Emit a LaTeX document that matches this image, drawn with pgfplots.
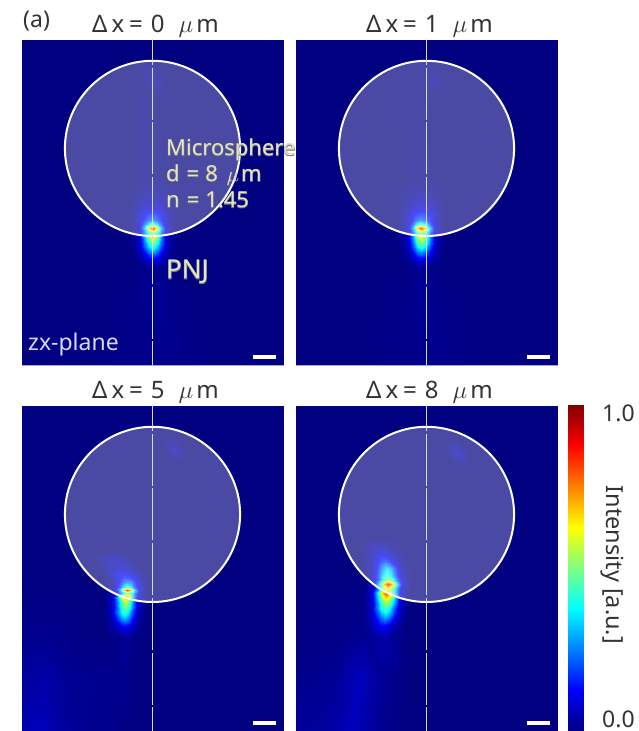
\documentclass[border=0pt]{standalone}
\usepackage{pgfplots}
\pgfplotsset{compat=1.18}
\usepackage{fontspec}
\setmainfont{Noto Sans}
\newfontfamily\halo[FakeBold=3.5]{Noto Sans}
\definecolor{txt}{HTML}{333333}
\definecolor{ann}{HTML}{E4E4C6}
\definecolor{hal}{HTML}{808078}
\definecolor{edgec}{HTML}{A4A4D4}
\definecolor{navy0}{rgb}{0,0,0.5}
\newcommand{\fs}[1]{\fontsize{#1}{#1}\selectfont}
\newcommand{\ttl}[1]{Δ\hspace{4pt}x\hspace{5pt}=\hspace{8pt}#1\hspace{14pt}$\mu$\hspace{3pt}m}
\pgfplotsset{
 panel/.style={
  scale only axis, width=261pt, height=325pt,
  xmin=-5.96, xmax=5.96, ymin=-9.89, ymax=4.95,
  xtick=\empty, ytick=\empty,
  axis line style={color=edgec, line width=0.6pt},
  axis background/.style={fill=navy0},
  colormap/jet, point meta min=0, point meta max=1,
  title style={font=\fs{24}, color=txt, at={(0.5,1)}, anchor=south, yshift=-7pt, xshift=3pt},
  unbounded coords=jump, clip=true,
 },
 heat/.style={surf, shader=interp, mesh/cols=#1, point meta=explicit, forget plot},
}
\newcommand{\overlay}{%
 \draw[white, line width=2pt, fill=white, fill opacity=0.29] (axis cs:0,0) circle[radius=4];
 \addplot[white!85!blue, line width=1.2pt, forget plot] coordinates {(0,5)(0,3.81)(0,nan)(0,3.69)(0,1.31)(0,nan)(0,1.19)(0,-1.19)(0,nan)(0,-1.31)(0,-3.69)(0,nan)(0,-3.81)(0,-6.19)(0,nan)(0,-6.31)(0,-8.69)(0,nan)(0,-8.81)(0,-10)};
 \addplot[white, line width=4.5pt, forget plot] coordinates {(4.6,-9.53)(5.62,-9.53)};
}
\begin{document}
\begin{tikzpicture}
\useasboundingbox (0,0) rectangle (638pt,731pt);
% panel 1
\begin{axis}[panel, name=p1, at={(22pt,366pt)}, anchor=south west, title={\ttl{0}}]
\addplot[heat=7] coordinates {(-5.96,-9.89)[0](-3,-9.89)[0](-1.5,-9.89)[.01](0,-9.89)[.01](1.5,-9.89)[.01](3,-9.89)[0](5.96,-9.89)[0]
(-5.96,-7)[0](-2.5,-7)[0](-1,-7)[.01](0,-7)[.02](1,-7)[.01](2.5,-7)[0](5.96,-7)[0]
(-5.96,-5.4)[0](-2,-5.4)[0](-1,-5.4)[0](0,-5.4)[.02](1,-5.4)[0](2,-5.4)[0](5.96,-5.4)[0]
(-5.96,4.95)[0](-2,4.95)[0](-1,4.95)[0](0,4.95)[0](1,4.95)[0](2,4.95)[0](5.96,4.95)[0]};
\addplot[heat=3] coordinates {(-.6,2.4)[0](0,2.4)[0](.6,2.4)[0](-.6,3.2)[0](0,3.2)[.04](.6,3.2)[0](-.6,3.9)[0](0,3.9)[0](.6,3.9)[0]};
\addplot[heat=9] coordinates {
(-1,-5.4)[0](-.62,-5.4)[.005](-.38,-5.4)[.01](-.18,-5.4)[.015](0,-5.4)[.02](.18,-5.4)[.015](.38,-5.4)[.01](.62,-5.4)[.005](1,-5.4)[0]
(-1,-5)[.005](-.62,-5)[.03](-.38,-5)[.07](-.18,-5)[.12](0,-5)[.14](.18,-5)[.12](.38,-5)[.07](.62,-5)[.03](1,-5)[.005]
(-1,-4.75)[.005](-.62,-4.75)[.04](-.38,-4.75)[.13](-.18,-4.75)[.24](0,-4.75)[.28](.18,-4.75)[.24](.38,-4.75)[.13](.62,-4.75)[.04](1,-4.75)[.005]
(-1,-4.5)[.01](-.62,-4.5)[.06](-.38,-4.5)[.2](-.18,-4.5)[.35](0,-4.5)[.42](.18,-4.5)[.35](.38,-4.5)[.2](.62,-4.5)[.06](1,-4.5)[.01]
(-1,-4.25)[.01](-.62,-4.25)[.07](-.38,-4.25)[.25](-.18,-4.25)[.46](0,-4.25)[.55](.18,-4.25)[.46](.38,-4.25)[.25](.62,-4.25)[.07](1,-4.25)[.01]
(-1,-4.03)[.01](-.62,-4.03)[.08](-.38,-4.03)[.28](-.18,-4.03)[.55](0,-4.03)[.66](.18,-4.03)[.55](.38,-4.03)[.28](.62,-4.03)[.08](1,-4.03)[.01]
(-1,-3.85)[.01](-.62,-3.85)[.06](-.38,-3.85)[.22](-.18,-3.85)[.42](0,-3.85)[.5](.18,-3.85)[.42](.38,-3.85)[.22](.62,-3.85)[.06](1,-3.85)[.01]
(-1,-3.64)[.01](-.62,-3.64)[.07](-.38,-3.64)[.3](-.18,-3.64)[.68](0,-3.64)[.84](.18,-3.64)[.68](.38,-3.64)[.3](.62,-3.64)[.07](1,-3.64)[.01]
(-1,-3.45)[.01](-.62,-3.45)[.06](-.38,-3.45)[.2](-.18,-3.45)[.37](0,-3.45)[.45](.18,-3.45)[.37](.38,-3.45)[.2](.62,-3.45)[.06](1,-3.45)[.01]
(-1,-3.28)[.01](-.62,-3.28)[.06](-.38,-3.28)[.14](-.18,-3.28)[.21](0,-3.28)[.24](.18,-3.28)[.21](.38,-3.28)[.14](.62,-3.28)[.06](1,-3.28)[.01]
(-1,-3.05)[.01](-.62,-3.05)[.06](-.38,-3.05)[.12](-.18,-3.05)[.16](0,-3.05)[.17](.18,-3.05)[.16](.38,-3.05)[.12](.62,-3.05)[.06](1,-3.05)[.01]
(-1,-2.7)[.01](-.62,-2.7)[.04](-.38,-2.7)[.07](-.18,-2.7)[.08](0,-2.7)[.09](.18,-2.7)[.08](.38,-2.7)[.07](.62,-2.7)[.04](1,-2.7)[.01]
(-1,-2.2)[.005](-.62,-2.2)[.02](-.38,-2.2)[.03](-.18,-2.2)[.04](0,-2.2)[.04](.18,-2.2)[.04](.38,-2.2)[.03](.62,-2.2)[.02](1,-2.2)[.005]
(-1,-1.5)[0](-.62,-1.5)[.005](-.38,-1.5)[.01](-.18,-1.5)[.01](0,-1.5)[.01](.18,-1.5)[.01](.38,-1.5)[.01](.62,-1.5)[.005](1,-1.5)[0]};
\overlay
\end{axis}
% panel 2
\begin{axis}[panel, name=p2, at={(296pt,366pt)}, anchor=south west, title={\ttl{1}}]
\addplot[heat=7] coordinates {(-5.96,-9.89)[0](-3.2,-9.89)[0](-1.7,-9.89)[.01](-.3,-9.89)[.01](1.2,-9.89)[.01](3,-9.89)[0](5.96,-9.89)[0]
(-5.96,-7)[0](-2.7,-7)[0](-1.2,-7)[.01](-.25,-7)[.02](.8,-7)[.01](2.3,-7)[0](5.96,-7)[0]
(-5.96,-5.4)[0](-2.2,-5.4)[0](-1.24,-5.4)[0](-.24,-5.4)[.02](.76,-5.4)[0](1.8,-5.4)[0](5.96,-5.4)[0]
(-5.96,4.95)[0](-2.2,4.95)[0](-1.24,4.95)[0](-.24,4.95)[0](.76,4.95)[0](1.8,4.95)[0](5.96,4.95)[0]};
\addplot[heat=3] coordinates {(-.4,2.4)[0](.2,2.4)[0](.8,2.4)[0](-.4,3.2)[0](.2,3.2)[.03](.8,3.2)[0](-.4,3.9)[0](.2,3.9)[0](.8,3.9)[0]};
\addplot[heat=9] coordinates {
(-1.24,-5.4)[0](-.86,-5.4)[.005](-.62,-5.4)[.01](-.42,-5.4)[.015](-.24,-5.4)[.02](-.06,-5.4)[.015](.14,-5.4)[.01](.38,-5.4)[.005](.76,-5.4)[0]
(-1.24,-5)[.005](-.86,-5)[.03](-.62,-5)[.07](-.42,-5)[.12](-.24,-5)[.14](-.06,-5)[.12](.14,-5)[.07](.38,-5)[.03](.76,-5)[.005]
(-1.24,-4.75)[.005](-.86,-4.75)[.04](-.62,-4.75)[.13](-.42,-4.75)[.24](-.24,-4.75)[.28](-.06,-4.75)[.24](.14,-4.75)[.13](.38,-4.75)[.04](.76,-4.75)[.005]
(-1.24,-4.5)[.01](-.86,-4.5)[.06](-.62,-4.5)[.2](-.42,-4.5)[.35](-.24,-4.5)[.42](-.06,-4.5)[.35](.14,-4.5)[.2](.38,-4.5)[.06](.76,-4.5)[.01]
(-1.24,-4.25)[.01](-.86,-4.25)[.07](-.62,-4.25)[.25](-.42,-4.25)[.46](-.24,-4.25)[.55](-.06,-4.25)[.46](.14,-4.25)[.25](.38,-4.25)[.07](.76,-4.25)[.01]
(-1.24,-4.03)[.01](-.86,-4.03)[.08](-.62,-4.03)[.28](-.42,-4.03)[.52](-.24,-4.03)[.62](-.06,-4.03)[.52](.14,-4.03)[.28](.38,-4.03)[.08](.76,-4.03)[.01]
(-1.24,-3.85)[.01](-.86,-3.85)[.06](-.62,-3.85)[.22](-.42,-3.85)[.42](-.24,-3.85)[.5](-.06,-3.85)[.42](.14,-3.85)[.22](.38,-3.85)[.06](.76,-3.85)[.01]
(-1.24,-3.64)[.01](-.86,-3.64)[.07](-.62,-3.64)[.3](-.42,-3.64)[.68](-.24,-3.64)[.84](-.06,-3.64)[.68](.14,-3.64)[.3](.38,-3.64)[.07](.76,-3.64)[.01]
(-1.24,-3.45)[.01](-.86,-3.45)[.06](-.62,-3.45)[.2](-.42,-3.45)[.37](-.24,-3.45)[.45](-.06,-3.45)[.37](.14,-3.45)[.2](.38,-3.45)[.06](.76,-3.45)[.01]
(-1.24,-3.28)[.01](-.86,-3.28)[.06](-.62,-3.28)[.14](-.42,-3.28)[.21](-.24,-3.28)[.24](-.06,-3.28)[.21](.14,-3.28)[.14](.38,-3.28)[.06](.76,-3.28)[.01]
(-1.24,-3.05)[.01](-.86,-3.05)[.06](-.62,-3.05)[.12](-.42,-3.05)[.16](-.24,-3.05)[.17](-.06,-3.05)[.16](.14,-3.05)[.12](.38,-3.05)[.06](.76,-3.05)[.01]
(-1.24,-2.7)[.01](-.86,-2.7)[.04](-.62,-2.7)[.07](-.42,-2.7)[.08](-.24,-2.7)[.09](-.06,-2.7)[.08](.14,-2.7)[.07](.38,-2.7)[.04](.76,-2.7)[.01]
(-1.24,-2.2)[.005](-.86,-2.2)[.02](-.62,-2.2)[.03](-.42,-2.2)[.04](-.24,-2.2)[.04](-.06,-2.2)[.04](.14,-2.2)[.03](.38,-2.2)[.02](.76,-2.2)[.005]
(-1.24,-1.5)[0](-.86,-1.5)[.005](-.62,-1.5)[.01](-.42,-1.5)[.01](-.24,-1.5)[.01](-.06,-1.5)[.01](.14,-1.5)[.01](.38,-1.5)[.005](.76,-1.5)[0]};
\overlay
\end{axis}
% panel 3
\begin{axis}[panel, name=p3, at={(22pt,0pt)}, anchor=south west, title={\ttl{5}}]
\addplot[heat=7] coordinates {(-5.96,-9.89)[.05](-5.1,-9.89)[.06](-4.2,-9.89)[.03](-2.8,-9.89)[.015](-1.6,-9.89)[.01](-.8,-9.89)[0](5.96,-9.89)[0]
(-5.96,-7.5)[.025](-4.9,-7.5)[.04](-3.9,-7.5)[.02](-2.4,-7.5)[.015](-1.4,-7.5)[.015](-.6,-7.5)[0](5.96,-7.5)[0]
(-5.96,-5.6)[.01](-4.6,-5.6)[.015](-3.4,-5.6)[.005](-2.2,-5.6)[0](-1.3,-5.6)[.02](-.4,-5.6)[0](5.96,-5.6)[0]
(-5.96,-3)[0](-4.6,-3)[0](-3.4,-3)[0](-2.2,-3)[0](-1.3,-3)[0](-.4,-3)[0](5.96,-3)[0]
(-5.96,4.95)[0](-4.6,4.95)[0](-3.4,4.95)[0](-2.2,4.95)[0](-1.3,4.95)[0](-.4,4.95)[0](5.96,4.95)[0]};
\addplot[heat=3] coordinates {(.4,2.4)[0](.96,2.4)[0](1.5,2.4)[0](.4,3)[0](.96,3)[.05](1.5,3)[0](.4,3.6)[0](.96,3.6)[0](1.5,3.6)[0]};
\addplot[heat=9] coordinates {
(-2.2,-5.6)[0](-1.88,-5.6)[.005](-1.65,-5.6)[.01](-1.46,-5.6)[.015](-1.3,-5.6)[.02](-1.14,-5.6)[.015](-.95,-5.6)[.01](-.72,-5.6)[.005](-.4,-5.6)[0]
(-2.2,-5.1)[.005](-1.88,-5.1)[.03](-1.65,-5.1)[.06](-1.46,-5.1)[.11](-1.3,-5.1)[.13](-1.14,-5.1)[.11](-.95,-5.1)[.06](-.72,-5.1)[.03](-.4,-5.1)[.005]
(-2.2,-4.8)[.005](-1.88,-4.8)[.04](-1.65,-4.8)[.13](-1.46,-4.8)[.24](-1.3,-4.8)[.28](-1.14,-4.8)[.24](-.95,-4.8)[.13](-.72,-4.8)[.04](-.4,-4.8)[.005]
(-2.2,-4.5)[.01](-1.88,-4.5)[.06](-1.65,-4.5)[.2](-1.46,-4.5)[.35](-1.3,-4.5)[.42](-1.14,-4.5)[.35](-.95,-4.5)[.2](-.72,-4.5)[.06](-.4,-4.5)[.01]
(-2.15,-4.2)[.01](-1.83,-4.2)[.07](-1.6,-4.2)[.24](-1.41,-4.2)[.44](-1.25,-4.2)[.52](-1.09,-4.2)[.44](-.9,-4.2)[.24](-.67,-4.2)[.07](-.35,-4.2)[.01]
(-2.15,-3.95)[.01](-1.83,-3.95)[.07](-1.6,-3.95)[.26](-1.41,-3.95)[.48](-1.25,-3.95)[.58](-1.09,-3.95)[.48](-.9,-3.95)[.26](-.67,-3.95)[.07](-.35,-3.95)[.01]
(-2.15,-3.75)[.01](-1.83,-3.75)[.08](-1.6,-3.75)[.3](-1.41,-3.75)[.64](-1.25,-3.75)[.78](-1.09,-3.75)[.64](-.9,-3.75)[.3](-.67,-3.75)[.08](-.35,-3.75)[.01]
(-2.05,-3.6)[.01](-1.73,-3.6)[.06](-1.5,-3.6)[.22](-1.31,-3.6)[.4](-1.15,-3.6)[.48](-.99,-3.6)[.4](-.8,-3.6)[.22](-.57,-3.6)[.06](-.25,-3.6)[.01]
(-2.05,-3.47)[.01](-1.73,-3.47)[.07](-1.5,-3.47)[.3](-1.31,-3.47)[.7](-1.15,-3.47)[.86](-.99,-3.47)[.7](-.8,-3.47)[.3](-.57,-3.47)[.07](-.25,-3.47)[.01]
(-2.05,-3.3)[.01](-1.73,-3.3)[.06](-1.5,-3.3)[.18](-1.31,-3.3)[.35](-1.15,-3.3)[.42](-.99,-3.3)[.35](-.8,-3.3)[.18](-.57,-3.3)[.06](-.25,-3.3)[.01]
(-2.05,-3.1)[.01](-1.73,-3.1)[.05](-1.5,-3.1)[.14](-1.31,-3.1)[.23](-1.15,-3.1)[.26](-.99,-3.1)[.23](-.8,-3.1)[.14](-.57,-3.1)[.05](-.25,-3.1)[.01]
(-2.1,-2.9)[.01](-1.78,-2.9)[.05](-1.55,-2.9)[.11](-1.36,-2.9)[.15](-1.2,-2.9)[.17](-1.04,-2.9)[.15](-.85,-2.9)[.11](-.62,-2.9)[.05](-.3,-2.9)[.01]
(-2.35,-2.5)[.01](-2.03,-2.5)[.04](-1.8,-2.5)[.06](-1.61,-2.5)[.07](-1.45,-2.5)[.07](-1.29,-2.5)[.07](-1.1,-2.5)[.06](-.87,-2.5)[.04](-.55,-2.5)[.01]
(-2.8,-1.8)[0](-2.48,-1.8)[.015](-2.25,-1.8)[.025](-2.06,-1.8)[.03](-1.9,-1.8)[.03](-1.74,-1.8)[.03](-1.55,-1.8)[.025](-1.32,-1.8)[.015](-1,-1.8)[0]};
\overlay
\end{axis}
% panel 4
\begin{axis}[panel, name=p4, at={(296pt,0pt)}, anchor=south west, title={\ttl{8}}]
\addplot[heat=7] coordinates {(-5.96,-9.89)[.025](-4.6,-9.89)[.03](-3.4,-9.89)[.06](-2.2,-9.89)[.02](-1,-9.89)[0](0,-9.89)[0](5.96,-9.89)[0]
(-5.96,-7.5)[.01](-4.2,-7.5)[.02](-3,-7.5)[.06](-2,-7.5)[.02](-.8,-7.5)[0](0,-7.5)[0](5.96,-7.5)[0]
(-5.96,-5.6)[0](-3.8,-5.6)[.01](-2.65,-5.6)[.02](-2,-5.6)[.04](-1,-5.6)[0](0,-5.6)[0](5.96,-5.6)[0]
(-5.96,-3)[0](-3.8,-3)[0](-2.65,-3)[0](-2,-3)[0](-1,-3)[0](0,-3)[0](5.96,-3)[0]
(-5.96,4.95)[0](-3.8,4.95)[0](-2.65,4.95)[0](-2,4.95)[0](-1,4.95)[0](0,4.95)[0](5.96,4.95)[0]};
\addplot[heat=3] coordinates {(.8,2.2)[0](1.4,2.2)[0](2,2.2)[0](.8,2.8)[0](1.4,2.8)[.06](2,2.8)[0](.8,3.4)[0](1.4,3.4)[0](2,3.4)[0]};
\addplot[heat=9] coordinates {
(-3,-5.6)[0](-2.65,-5.6)[.02](-2.4,-5.6)[.025](-2.18,-5.6)[.035](-2,-5.6)[.04](-1.82,-5.6)[.035](-1.6,-5.6)[.02](-1.35,-5.6)[.01](-1,-5.6)[0]
(-3,-5.05)[.005](-2.65,-5.05)[.03](-2.4,-5.05)[.07](-2.18,-5.05)[.12](-2,-5.05)[.14](-1.82,-5.05)[.12](-1.6,-5.05)[.07](-1.35,-5.05)[.03](-1,-5.05)[.005]
(-2.9,-4.7)[.01](-2.55,-4.7)[.05](-2.3,-4.7)[.14](-2.08,-4.7)[.25](-1.9,-4.7)[.3](-1.72,-4.7)[.25](-1.5,-4.7)[.14](-1.25,-4.7)[.05](-.9,-4.7)[.01]
(-2.9,-4.3)[.01](-2.55,-4.3)[.07](-2.3,-4.3)[.21](-2.08,-4.3)[.38](-1.9,-4.3)[.45](-1.72,-4.3)[.38](-1.5,-4.3)[.21](-1.25,-4.3)[.07](-.9,-4.3)[.01]
(-2.85,-4)[.01](-2.5,-4)[.08](-2.25,-4)[.27](-2.03,-4)[.47](-1.85,-4)[.55](-1.67,-4)[.47](-1.45,-4)[.27](-1.2,-4)[.08](-.85,-4)[.01]
(-2.85,-3.6)[.01](-2.5,-3.6)[.09](-2.25,-3.6)[.35](-2.03,-3.6)[.66](-1.85,-3.6)[.8](-1.67,-3.6)[.66](-1.45,-3.6)[.35](-1.2,-3.6)[.09](-.85,-3.6)[.01]
(-2.8,-3.4)[.01](-2.45,-3.4)[.07](-2.2,-3.4)[.28](-1.98,-3.4)[.5](-1.8,-3.4)[.6](-1.62,-3.4)[.5](-1.4,-3.4)[.28](-1.15,-3.4)[.07](-.8,-3.4)[.01]
(-2.75,-3.2)[.01](-2.4,-3.2)[.08](-2.15,-3.2)[.35](-1.93,-3.2)[.7](-1.75,-3.2)[.86](-1.57,-3.2)[.7](-1.35,-3.2)[.35](-1.1,-3.2)[.08](-.75,-3.2)[.01]
(-2.75,-3)[.01](-2.4,-3)[.07](-2.15,-3)[.22](-1.93,-3)[.44](-1.75,-3)[.54](-1.57,-3)[.44](-1.35,-3)[.22](-1.1,-3)[.07](-.75,-3)[.01]
(-2.8,-2.75)[.01](-2.45,-2.75)[.06](-2.2,-2.75)[.18](-1.98,-2.75)[.35](-1.8,-2.75)[.42](-1.62,-2.75)[.35](-1.4,-2.75)[.18](-1.15,-2.75)[.06](-.8,-2.75)[.01]
(-2.8,-2.45)[.01](-2.45,-2.45)[.05](-2.2,-2.45)[.15](-1.98,-2.45)[.28](-1.8,-2.45)[.34](-1.62,-2.45)[.28](-1.4,-2.45)[.15](-1.15,-2.45)[.05](-.8,-2.45)[.01]
(-2.9,-2.15)[.01](-2.55,-2.15)[.04](-2.3,-2.15)[.08](-2.08,-2.15)[.15](-1.9,-2.15)[.18](-1.72,-2.15)[.15](-1.5,-2.15)[.08](-1.25,-2.15)[.04](-.9,-2.15)[.01]
(-3,-1.8)[0](-2.65,-1.8)[.03](-2.4,-1.8)[.05](-2.18,-1.8)[.08](-2,-1.8)[.1](-1.82,-1.8)[.08](-1.6,-1.8)[.05](-1.35,-1.8)[.03](-1,-1.8)[0]
(-3.2,-1.2)[0](-2.85,-1.2)[.01](-2.6,-1.2)[.015](-2.38,-1.2)[.02](-2.2,-1.2)[.02](-2.02,-1.2)[.02](-1.8,-1.2)[.015](-1.55,-1.2)[.01](-1.2,-1.2)[0]};
\overlay
\end{axis}
% colour bar
\begin{axis}[scale only axis, width=15pt, height=326pt, at={(568pt,0pt)}, anchor=south west,
 xmin=0, xmax=1, ymin=0, ymax=1, xtick=\empty,
 ytick={0.034,0.975}, yticklabels={0.0,1.0}, yticklabel pos=right,
 tick style={draw=none}, axis line style={draw=none},
 yticklabel style={font=\fs{23}, color=txt, xshift=19pt, anchor=west, inner sep=0pt, text height=16pt, text depth=0pt},
 colormap/jet, point meta min=0, point meta max=1,
 ylabel={Intensity [a.u.]},
 ylabel style={font=\fs{23.5}, color=txt, at={(axis description cs:2.93,0.51)}, anchor=center, rotate=180},
]
\addplot[heat=2] coordinates {(0,0)[0](1,0)[0](0,1)[1](1,1)[1]};
\end{axis}
% labels
\node[anchor=west, inner sep=0pt, color=txt, font=\fs{23}] at (23pt,710pt) {(a)};
\foreach \t/\y/\s in {Microsphere/581/22,{d\hspace{7pt}=\hspace{6pt}8\hspace{9pt}$\mu$\hspace{2pt}m}/556/22,{n\hspace{7pt}=\hspace{6pt}1.45}/531/22,PNJ/459/26}{
 \node[anchor=west, inner sep=0pt, color=hal, font=\fs{\s}\halo] at (166pt,\y pt) {\t};
 \node[anchor=west, inner sep=0pt, color=ann, font=\fs{\s}] at (166pt,\y pt) {\t};
}
\node[anchor=west, inner sep=0pt, color=white!85!blue, font=\fs{23}] at (28pt,386pt) {zx-plane};
\end{tikzpicture}
\end{document}
